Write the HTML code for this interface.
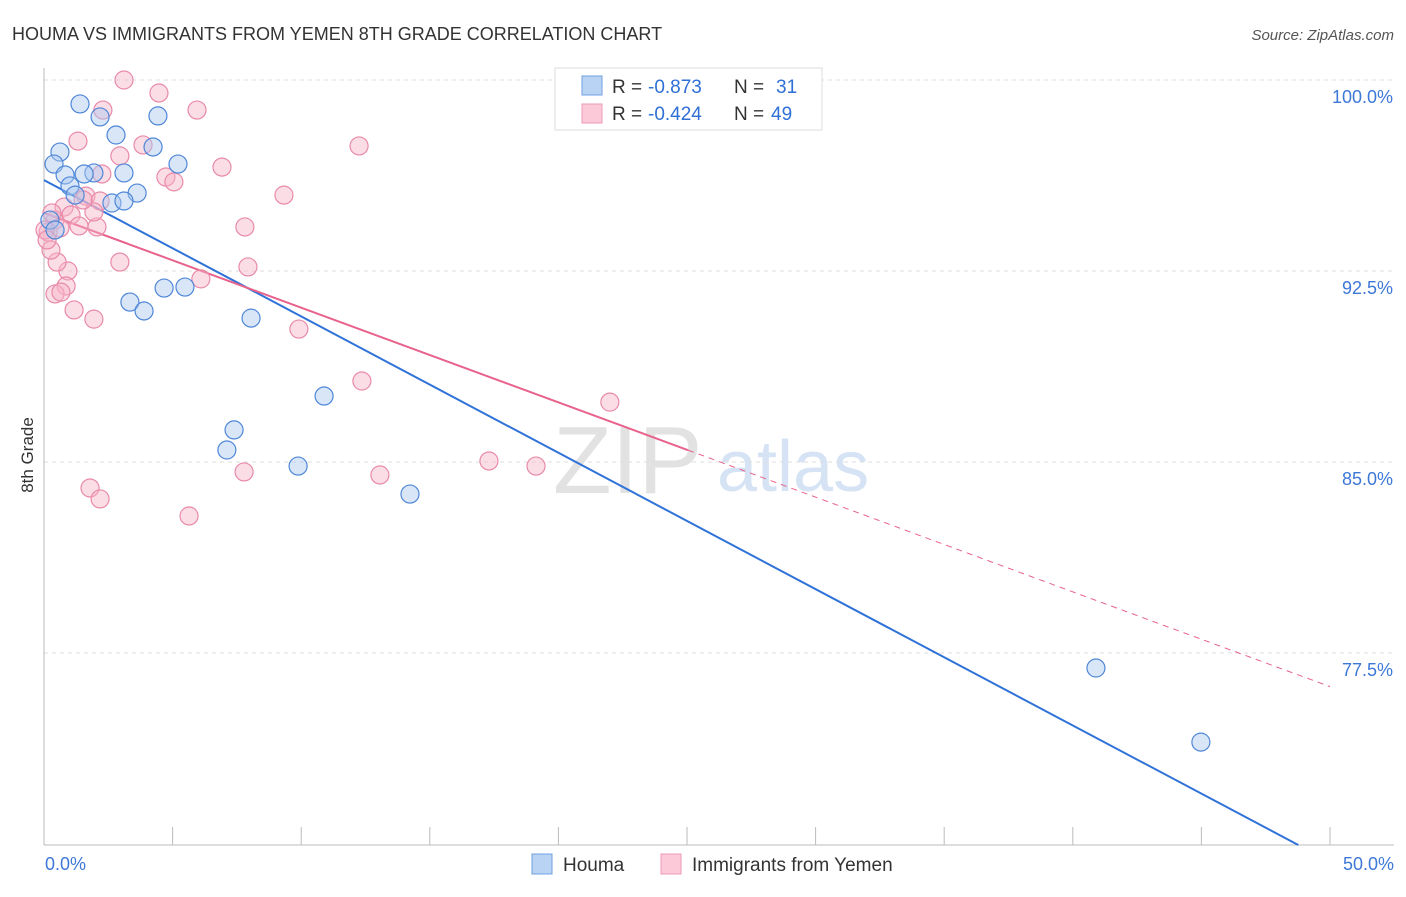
<!DOCTYPE html>
<html><head><meta charset="utf-8"><style>
body{margin:0;background:#fff;font-family:"Liberation Sans",sans-serif;}
svg text{font-family:"Liberation Sans",sans-serif;}
</style></head><body>
<svg id="chart" width="1406" height="892">
<text x="12" y="40" font-size="18" fill="#333">HOUMA VS IMMIGRANTS FROM YEMEN 8TH GRADE CORRELATION CHART</text>
<text x="1394" y="40" font-size="15" fill="#555" font-style="italic" text-anchor="end">Source: ZipAtlas.com</text>
<text x="33" y="455" font-size="17" fill="#333" transform="rotate(-90 33 455)" text-anchor="middle">8th Grade</text>
<g>
<text x="553" y="493" font-size="96" fill="#e2e2e2" font-family="Liberation Serif">ZIP</text>
<text x="717" y="491" font-size="72" fill="#d5e3f5">atlas</text>
</g>
<g id="grid"></g><g id="axes"></g><g id="trends"></g><g id="pts"></g>
<g>
<rect x="555" y="68" width="267" height="62" fill="#fff" stroke="#ddd"/>
<rect x="582" y="76" width="20" height="19" fill="#b8d3f4" stroke="#6f9fe0"/>
<rect x="582" y="104" width="20" height="19" fill="#fbc9d8" stroke="#ec9ab5"/>
<text x="612" y="93" font-size="19" fill="#333">R =</text>
<text x="648" y="93" font-size="19" fill="#2f6fd6">-0.873</text>
<text x="734" y="93" font-size="19" fill="#333">N =</text>
<text x="776" y="93" font-size="19" fill="#2f6fd6">31</text>
<text x="612" y="120" font-size="19" fill="#333">R =</text>
<text x="648" y="120" font-size="19" fill="#2f6fd6">-0.424</text>
<text x="734" y="120" font-size="19" fill="#333">N =</text>
<text x="771" y="120" font-size="19" fill="#2f6fd6">49</text>
</g>
<g>
<rect x="532" y="854" width="20" height="20" fill="#b8d3f4" stroke="#6f9fe0"/>
<text x="563" y="871" font-size="19" fill="#333">Houma</text>
<rect x="661" y="854" width="20" height="20" fill="#fbc9d8" stroke="#ec9ab5"/>
<text x="692" y="871" font-size="19" fill="#333">Immigrants from Yemen</text>
</g>
</svg>
<script>
const yTicks=[100,92.5,85,77.5];
const yTickLabels=["100.0%","92.5%","85.0%","77.5%"];
const xEndLabels=["0.0%","50.0%"];
const houmaX=[1.40,2.18,2.80,4.43,4.24,0.62,0.39,0.82,5.21,1.94,1.56,3.11,1.01,1.21,3.62,2.64,3.11,3.34,3.89,4.67,5.48,8.05,10.89,7.39,7.11,9.88,14.23,40.90,44.98,0.23,0.43];
const houmaY=[99.06,98.55,97.84,98.59,97.37,97.17,96.70,96.27,96.70,96.35,96.31,96.35,95.84,95.48,95.56,95.17,95.25,91.28,90.93,91.83,91.87,90.65,87.59,86.26,85.47,84.84,83.74,76.91,74.00,94.50,94.11];
const yemenX=[3.11,4.47,2.29,5.95,1.32,3.85,2.95,12.25,6.92,4.74,5.05,2.25,1.63,9.33,2.18,0.78,0.43,0.16,0.31,1.05,1.36,2.06,0.62,1.94,7.81,2.95,7.93,0.93,0.51,0.27,6.10,0.86,0.43,0.66,1.17,1.94,9.91,12.36,22.00,17.30,19.13,7.78,13.06,1.79,2.18,5.64,0.04,0.12,1.52];
const yemenY=[100.0,99.49,98.82,98.82,97.60,97.45,97.02,97.41,96.58,96.19,96.0,96.31,95.44,95.48,95.25,95.01,94.50,94.03,94.78,94.70,94.27,94.23,94.19,94.82,94.23,92.85,92.66,92.50,92.85,93.32,92.19,91.91,91.60,91.67,90.97,90.61,90.22,88.18,87.35,85.04,84.84,84.61,84.49,83.98,83.55,82.88,94.11,93.72,95.29];
const houmaTrend=[96.07,-0.5354];
const yemenTrend=[94.78,-0.372];
const yemenSolidEnd=25.04;
const NS="http://www.w3.org/2000/svg";
const X0=44,X1=1330,YT=80,YB=845,YMIN=69.96;
function sx(v){return X0+(v/50)*(X1-X0);}
function sy(v){return YT+(100-v)/(100-YMIN)*(YB-YT);}
function mk(tag,attrs,parent){const e=document.createElementNS(NS,tag);for(const k in attrs)e.setAttribute(k,attrs[k]);document.getElementById(parent).appendChild(e);return e;}
yTicks.forEach((t,i)=>{
 const g=mk('line',{x1:X0,x2:1394,y1:sy(t),y2:sy(t),stroke:'#ddd','stroke-dasharray':'4,4'},'grid');
 
 
 const l=mk('text',{x:1393,y:sy(t)+23,'font-size':18,fill:'#3d78d8','text-anchor':'end'},'axes');
 l.textContent=yTickLabels[i];
 
 
});
const ya=mk('line',{x1:X0,x2:X0,y1:68,y2:YB,stroke:'#bbb'},'axes');


const xa=mk('line',{x1:X0,x2:1394,y1:YB,y2:YB,stroke:'#bbb'},'axes');


for(let i=0;i<=10;i++){
 const t=mk('line',{x1:sx(i*5),x2:sx(i*5),y1:827,y2:YB,stroke:'#bbb'},'axes');
 
 
}
[[0,'start',45],[50,'end',1394]].forEach((d,i)=>{
 const l=mk('text',{x:d[2],y:870,'font-size':18,fill:'#3d78d8','text-anchor':d[1]},'axes');
 l.textContent=xEndLabels[i];
 
 
});
function pts(xs,ys,fill,stroke,name){
 xs.forEach((x,i)=>{
  const c=mk('circle',{cx:sx(x),cy:sy(ys[i]),r:9,fill:fill,'fill-opacity':0.45,stroke:stroke,'stroke-width':1.2},'pts');
  
  
 });
}
pts(yemenX,yemenY,'#f6b3c8','#e98aa9','yemen-point');
pts(houmaX,houmaY,'#a9c8f0','#4f87d8','houma-point');
const hxEnd=(YMIN-houmaTrend[0])/houmaTrend[1];
const hl=mk('line',{x1:sx(0),y1:sy(houmaTrend[0]),x2:sx(hxEnd),y2:sy(YMIN),stroke:'#2f72d8','stroke-width':2},'trends');


const yl=mk('line',{x1:sx(0),y1:sy(yemenTrend[0]),x2:sx(yemenSolidEnd),y2:sy(yemenTrend[0]+yemenTrend[1]*yemenSolidEnd),stroke:'#e8628c','stroke-width':2},'trends');


const yd=mk('line',{x1:sx(yemenSolidEnd),y1:sy(yemenTrend[0]+yemenTrend[1]*yemenSolidEnd),x2:sx(50),y2:sy(yemenTrend[0]+yemenTrend[1]*50),stroke:'#e8628c','stroke-width':1,'stroke-dasharray':'6,5'},'trends');


</script>
</body></html>
